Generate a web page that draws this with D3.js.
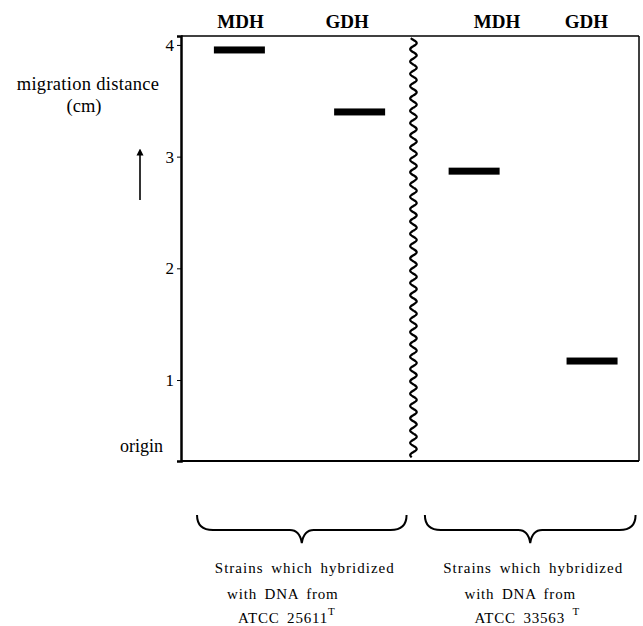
<!DOCTYPE html>
<html>
<head>
<meta charset="utf-8">
<script src="https://cdn.jsdelivr.net/npm/d3@7"></script>
<style>
  body { margin: 0; background: #fff; }
  svg text { font-family: "Liberation Serif", "Times New Roman", serif; fill: #000; }
</style>
</head>
<body>
<svg width="643" height="626"></svg>
<script>
var svg = d3.select("svg");

// lanes (x in lane units, 0..4 across the gel)
var lanes = ["MDH", "GDH", "MDH", "GDH"];
var laneLabelX = [0.52, 1.45, 2.76, 3.54];
// band position per lane and migration distance (cm)
var bandX = [0.51, 1.56, 2.56, 3.59];
var bandDist = [3.955, 3.40, 2.87, 1.17];
var yTicks = [1, 2, 3, 4];
var groupText = [
  ["Strains which hybridized", "with DNA from", "ATCC 25611"],
  ["Strains which hybridized", "with DNA from", "ATCC 33563 "]
];
var groupX = [[0.14, 1.97], [2.13, 3.97]];

var x = d3.scaleLinear().domain([0, 4]).range([181, 639]);
var y = d3.scaleLinear().domain([0.275, 4.08]).range([461, 36]);

// frame
svg.append("line").attr("x1", x(0)).attr("x2", x(4)).attr("y1", y(4.08)).attr("y2", y(4.08))
  .attr("stroke", "#000").attr("stroke-width", 1.5);
svg.append("line").attr("x1", x(4)).attr("x2", x(4)).attr("y1", y(4.08)).attr("y2", y(0.275))
  .attr("stroke", "#000").attr("stroke-width", 1.5);
svg.append("line").attr("x1", x(0)).attr("x2", x(4)).attr("y1", y(0.275)).attr("y2", y(0.275))
  .attr("stroke", "#000").attr("stroke-width", 2);

// y axis
var yAxis = d3.axisLeft(y).tickValues(yTicks).tickFormat(d3.format("d")).tickSize(4).tickPadding(3);
var ga = svg.append("g").attr("transform", "translate(" + x(0) + ",0)").call(yAxis);
ga.select(".domain").attr("stroke-width", 2.5);
ga.selectAll("text").style("font-size", "17px").style("font-family", "Liberation Serif");

// origin label
svg.append("text").attr("x", 163).attr("y", y(0.4)).attr("dy", "0.3em")
  .attr("text-anchor", "end").style("font-size", "18px").text("origin");

// y title
svg.append("text").attr("x", 88).attr("y", 90).attr("text-anchor", "middle")
  .style("font-size", "18.5px").style("letter-spacing", "0.3px").text("migration distance");
svg.append("text").attr("x", 84).attr("y", 112).attr("text-anchor", "middle")
  .style("font-size", "18.5px").text("(cm)");

// arrow
svg.append("defs").append("marker").attr("id", "ah")
  .attr("viewBox", "0 0 10 10").attr("refX", 5).attr("refY", 5)
  .attr("markerWidth", 7).attr("markerHeight", 9).attr("markerUnits", "userSpaceOnUse")
  .attr("orient", "auto")
  .append("path").attr("d", "M0,0L10,5L0,10z").attr("fill", "#000");
svg.append("line").attr("x1", 140).attr("x2", 140).attr("y1", 200).attr("y2", 152)
  .attr("stroke", "#000").attr("stroke-width", 1.6).attr("marker-end", "url(#ah)");

// lane headers
svg.selectAll(".lane").data(lanes).enter().append("text")
  .attr("class", "lane")
  .attr("x", function(d, i) { return x(laneLabelX[i]); })
  .attr("y", 28).attr("text-anchor", "middle")
  .style("font-size", "19px").style("font-weight", "bold")
  .text(function(d) { return d; });

// bands
var bw = 51, bh = 7;
svg.selectAll(".band").data(bandDist).enter().append("rect")
  .attr("class", "band")
  .attr("x", function(d, i) { return x(bandX[i]) - bw / 2; })
  .attr("y", function(d) { return y(d) - bh / 2; })
  .attr("width", bw).attr("height", bh).attr("fill", "#000");

// wavy divider
var wx = x(2.03);
var pts = [];
for (var yy = y(4.06); yy <= y(0.3); yy += 1) {
  pts.push([wx + 3.4 * Math.sin((yy - 40) / 12.3 * 2 * Math.PI), yy]);
}
svg.append("path").attr("d", d3.line().curve(d3.curveBasis)(pts)).attr("fill", "none")
  .attr("stroke", "#000").attr("stroke-width", 2.2);

// braces
function brace(x0, x1) {
  var xm = (x0 + x1) / 2, t = 515, f = 530, tip = 543;
  return "M" + x0 + "," + t +
    "Q" + x0 + "," + f + " " + (x0 + 16) + "," + f +
    "L" + (xm - 12) + "," + f +
    "Q" + (xm - 2) + "," + f + " " + xm + "," + tip +
    "Q" + (xm + 2) + "," + f + " " + (xm + 12) + "," + f +
    "L" + (x1 - 16) + "," + f +
    "Q" + x1 + "," + f + " " + x1 + "," + t;
}
svg.selectAll(".brace").data(groupX).enter().append("path")
  .attr("class", "brace")
  .attr("d", function(d) { return brace(x(d[0]), x(d[1])); })
  .attr("fill", "none").attr("stroke", "#000").attr("stroke-width", 2);

// group captions
var lineY = [573, 599, 623];
var lineDx = [[3, -19, -15], [3, -10, -3]];
groupText.forEach(function(lines, g) {
  var cx = (x(groupX[g][0]) + x(groupX[g][1])) / 2;
  lines.forEach(function(s, k) {
    var t = svg.append("text")
      .attr("x", cx + lineDx[g][k]).attr("y", lineY[k])
      .attr("text-anchor", "middle").style("font-size", "15px")
      .style("letter-spacing", k === 0 ? "1px" : "0.8px").style("word-spacing", "3px");
    t.append("tspan").text(s);
    if (k === 2) {
      t.append("tspan").attr("dy", -8).style("font-size", "11px").text("T");
    }
  });
});
</script>
</body>
</html>
